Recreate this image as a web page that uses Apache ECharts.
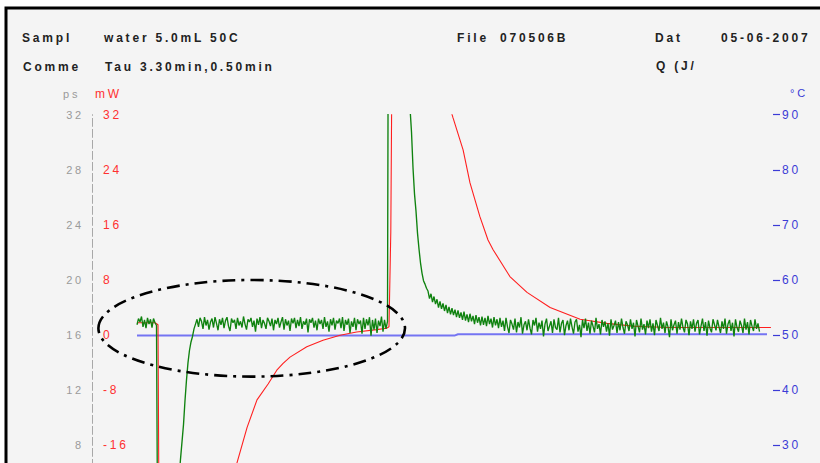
<!DOCTYPE html>
<html>
<head>
<meta charset="utf-8">
<script src="https://cdn.jsdelivr.net/npm/echarts@6/dist/echarts.min.js"></script>
<style>
  html, body { margin: 0; padding: 0; background: #ffffff; overflow: hidden; }
  #chart { width: 820px; height: 540px; }
  #chart text { letter-spacing: 2.8px; }
</style>
</head>
<body>
<div id="chart"></div>
<script>
// ---- header texts ----
const headerLabels = ['Sampl', 'Comme', 'File', 'Dat', 'Q (J/'];
const headerValues = ['water 5.0mL 50C', 'Tau 3.30min,0.50min', '070506B', '05-06-2007'];
const axisUnits = ['ps', 'mW', '°C'];

// ---- axis scales (tick labels) ----
const psTicks = { min: 4, max: 32, interval: 4 };
const mwTicks = { min: -24, max: 32, interval: 8 };
const tempTicks = { min: 20, max: 90, interval: 10 };
const timeRange = { min: 0, max: 227 };

// ---- heat flow (green), mW, sampled every 0.5 time units starting at t = 15 ----
const greenStart = 15;
const greenStep = 0.5;
const greenHeat = [
  // t 15 - 21.5 : initial baseline
  1.5, 2.4, 1.9, 2.7, 1.2, 2.2, 1.0, 2.5, 1.6, 2.3, 1.1, 2.4, 1.8, 1.4,
  // t 22 - 27.5 : endothermic drop (off scale)
  -40, -42, -45, -45, -45, -45, -45, -45, -44, -42, -38, -34,
  // t 28 - 34.5 : recovery
  -30, -26, -21, -18, -15.5, -13, -9.5, -6.5, -4, -2.2, -1.0, -0.2, 0.9, 1.6,
  // t 35 - 98.5 : noisy baseline
  2.3, 1.2, 2.5, 2.0, 0.9, 2.6, 1.4, 2.2, 0.8, 1.9, 2.4, 1.1, 2.6, 1.7, 0.7, 2.3,
  1.5, 2.5, 1.0, 2.1, 2.6, 1.3, 0.6, 2.4, 1.8, 2.2, 0.9, 2.5, 1.4, 2.0, 1.1, 2.7,
  1.6, 0.8, 2.3, 1.9, 2.5, 1.2, 2.1, 0.5, 2.4, 1.5, 2.6, 1.0, 2.2, 1.7, 0.9, 2.5,
  2.0, 1.3, 2.4, 0.7, 2.2, 1.6, 2.5, 1.1, 1.9, 2.6, 0.8, 2.3, 1.4, 2.1, 0.6, 2.4,
  1.7, 2.5, 1.0, 2.2, 1.3, 2.6, 0.9, 2.0, 1.5, 2.4, 0.4, 2.3, 1.8, 2.5, 1.1, 2.1,
  0.7, 2.4, 1.6, 2.2, 0.9, 2.6, 1.2, 2.0, 0.5, 2.3, 1.4, 2.5, 0.8, 2.1, 1.7, 2.4,
  1.0, 2.6, 0.6, 2.2, 1.5, 2.4, 0.3, 2.0, 1.2, 2.5, 0.7, 2.3, 1.6, 2.1, 0.2, 2.5,
  0.9, 2.3, 1.4, 2.6, -0.1, 2.2, 0.8, 2.4, 0.3, 2.1, 1.3, 2.7, 0.5, 2.2, 0.9, 2.0,
  // t 99 - 105.5 : exothermic peak (off scale)
  90, 90, 88, 84, 78, 72, 66, 60, 54, 49, 44, 40, 37, 34.5,
  // t 106 - 111.5 : decay
  33, 29.5, 24.3, 20.5, 18.0, 14.8, 12.5, 10.5, 9.0, 7.9, 7.4, 6.8,
  // t 112 - 136.5 : noisy tail
  6.4, 5.3, 6.0, 4.8, 5.6, 4.5, 5.2, 4.0, 4.9, 3.8, 4.6, 3.5, 4.4, 3.2, 4.1, 3.0,
  3.9, 2.9, 3.7, 2.6, 3.6, 2.5, 3.3, 2.2, 3.4, 2.1, 3.0, 1.9, 3.1, 2.0,
  2.8, 1.6, 2.9, 1.8, 2.6, 1.4, 2.7, 1.5, 2.5, 1.3, 2.8, 1.6, 2.4, 1.1, 2.6, 1.4, 2.3, 1.0, 2.5, 1.2,
  // t 137 - 222.5 : final baseline
  2.1, 0.6, 2.5, 1.2, 0.3, 2.2, 1.6, 0.8, 2.4, 0.4, 1.9, 1.1, 2.6, 0.2, 1.5, 2.0,
  0.7, 2.3, 1.0, 0.1, 2.2, 1.4, 2.5, 0.5, 1.8, 0.9, 2.1, -0.2, 1.6, 2.4, 0.6, 1.3,
  2.0, 0.3, 2.3, 1.1, 0.8, 2.5, 0.4, 1.7, 2.2, 0.0, 1.4, 2.1, 0.7, 2.4, 1.2, 0.2,
  1.9, 2.3, 0.5, 1.5, -0.3, 2.2, 1.0, 2.4, 0.6, 1.8, 0.2, 2.1, 1.3, 0.4, 2.5, 0.9,
  1.6, 0.1, 2.2, 1.2, 2.0, 0.5, 1.7, -0.1, 2.3, 0.8, 1.4, 2.1, 0.3, 1.9, 0.7, 2.4,
  1.1, 0.2, 2.0, 1.5, 0.6, 2.3, 0.9, 1.8, -0.2, 2.2, 1.3, 0.4, 2.4, 0.8, 1.6, 0.1,
  2.1, 1.0, 2.3, 0.5, 1.7, 0.0, 2.2, 1.4, 0.6, 2.5, 0.9, 1.8, 0.3, 2.0, 1.2, -0.3,
  2.3, 0.7, 1.5, 2.1, 0.2, 1.9, 0.8, 2.4, 1.1, 0.4, 2.2, 1.6, 0.0, 2.0, 0.9, 2.3,
  0.5, 1.7, 2.2, 0.1, 1.3, 2.4, 0.6, 1.9, -0.1, 2.1, 1.0, 0.4, 2.3, 1.5, 0.7, 2.2,
  1.2, 0.3, 2.0, 0.9, 2.4, 0.2, 1.6, 2.2, 0.6, 1.8, -0.2, 2.3, 1.1, 0.5, 2.1, 1.4,
  0.3, 2.4, 0.8, 1.9, 0.1, 2.2, 1.3, 0.6, 2.3, 0.9, 1.7, 0.5
];

// ---- corrected heat flow (red), mW: [time, value] ----
const redTime = [15, 21, 22, 22.5, 45, 48.3, 51.7, 55, 58.7, 61.6, 63.7, 66, 71.6, 77, 82.7, 88.2, 94.9, 98.2,
  99, 99.6, 100.3, 101, 110, 116, 120.3, 123.7, 126, 129.3, 132, 133.7, 139.3, 145, 152.7, 162.7,
  171.7, 180.3, 191.7, 213.7, 226.3];
const redHeat = [1.8, 1.8, 1.5, -40, -40, -18.6, -13.4, -9.4, -7.1, -5.1, -4.1, -3.2, -1.7, -0.75, -0.03, 0.45, 0.8, 1.0,
  1.2, 15, 60, 90, 52, 38, 31.6, 26.9, 22.1, 17.2, 13.8, 12.4, 8.5, 6.2, 4.0, 2.3,
  1.7, 1.3, 1.1, 1.1, 1.1];

// ---- temperature (blue), °C: [time, value] ----
const blueTime = [15, 121, 122, 225];
const blueTemp = [49.95, 49.95, 50.15, 50.15];

const greenData = greenHeat.map((v, i) => [greenStart + i * greenStep, v]);
const redData = redTime.map((t, i) => [t, redHeat[i]]);
const blueData = blueTime.map((t, i) => [t, blueTemp[i]]);

const FONT = '"Liberation Sans", Arial, sans-serif';
const txt = (x, y, text, color, weight, size) => ({
  type: 'text', x: x, y: y, z: 50,
  style: { text: text, fill: color, font: (weight || 'bold') + ' ' + (size || 12) + 'px ' + FONT,
           textVerticalAlign: 'middle', textAlign: 'left' }
});

const chart = echarts.init(document.getElementById('chart'), null, { renderer: 'svg' });
chart.setOption({
  animation: false,
  backgroundColor: 'transparent',
  textStyle: { fontFamily: FONT },
  grid: { left: 92, width: 681, top: 114.7, height: 385.7, containLabel: false, outerBoundsMode: 'none' },
  xAxis: { type: 'value', min: timeRange.min, max: timeRange.max, show: false },
  yAxis: [
    { type: 'value', position: 'left', min: psTicks.min, max: psTicks.max, interval: psTicks.interval,
      axisLine: { show: true, lineStyle: { color: '#a8a8a8', width: 1, type: [8, 3] } },
      axisTick: { show: false }, splitLine: { show: false },
      axisLabel: { color: '#9a9a9a', fontSize: 11, margin: 8, showMinLabel: false } },
    { type: 'value', position: 'left', min: mwTicks.min, max: mwTicks.max, interval: mwTicks.interval,
      axisLine: { show: false }, axisTick: { show: false }, splitLine: { show: false },
      axisLabel: { inside: true, color: '#ff3030', fontSize: 12, margin: 11, showMinLabel: false } },
    { type: 'value', position: 'right', min: tempTicks.min, max: tempTicks.max, interval: tempTicks.interval,
      axisLine: { show: false },
      axisTick: { show: true, length: 7, inside: false, lineStyle: { color: '#3b3bd6', width: 1.2 } },
      splitLine: { show: false },
      axisLabel: { color: '#3b3bd6', fontSize: 12, margin: 9, showMinLabel: false } }
  ],
  graphic: [
    { type: 'rect', z: -100, silent: true,
      shape: { x: 6, y: 8, width: 900, height: 700 },
      style: { fill: '#f4f4f4', stroke: '#000000', lineWidth: 3 } },
    txt(22, 38, headerLabels[0], '#222'),
    txt(104, 38, headerValues[0], '#222'),
    txt(23, 67, headerLabels[1], '#222'),
    txt(105, 67, headerValues[1], '#222'),
    txt(457, 38, headerLabels[2], '#222'),
    txt(500, 38, headerValues[2], '#222'),
    txt(655, 38, headerLabels[3], '#222'),
    txt(721, 38, headerValues[3], '#222'),
    txt(656, 66, headerLabels[4], '#222'),
    txt(63, 94, axisUnits[0], '#9a9a9a', 'normal', 11),
    txt(95, 94, axisUnits[1], '#ff3030', 'normal', 12),
    txt(790, 93, axisUnits[2], '#3b3bd6', 'normal', 11),
    { type: 'ellipse', z: 100, silent: true,
      shape: { cx: 251.7, cy: 328.3, rx: 153.3, ry: 48.3 },
      style: { fill: 'none', stroke: '#000000', lineWidth: 2.6, lineDash: [13, 6, 3, 6] } }
  ],
  series: [
    { type: 'line', name: 'temperature', yAxisIndex: 2, data: blueData, showSymbol: false, clip: true,
      lineStyle: { color: '#7474f2', width: 2 }, z: 3 },
    { type: 'line', name: 'corrected', yAxisIndex: 1, data: redData, showSymbol: false, clip: true,
      lineStyle: { color: '#ff1f1f', width: 1.1 }, z: 4 },
    { type: 'line', name: 'heat flow', yAxisIndex: 1, data: greenData, showSymbol: false, clip: true,
      lineStyle: { color: '#0f820f', width: 1.35 }, z: 5 }
  ]
});
</script>
</body>
</html>
